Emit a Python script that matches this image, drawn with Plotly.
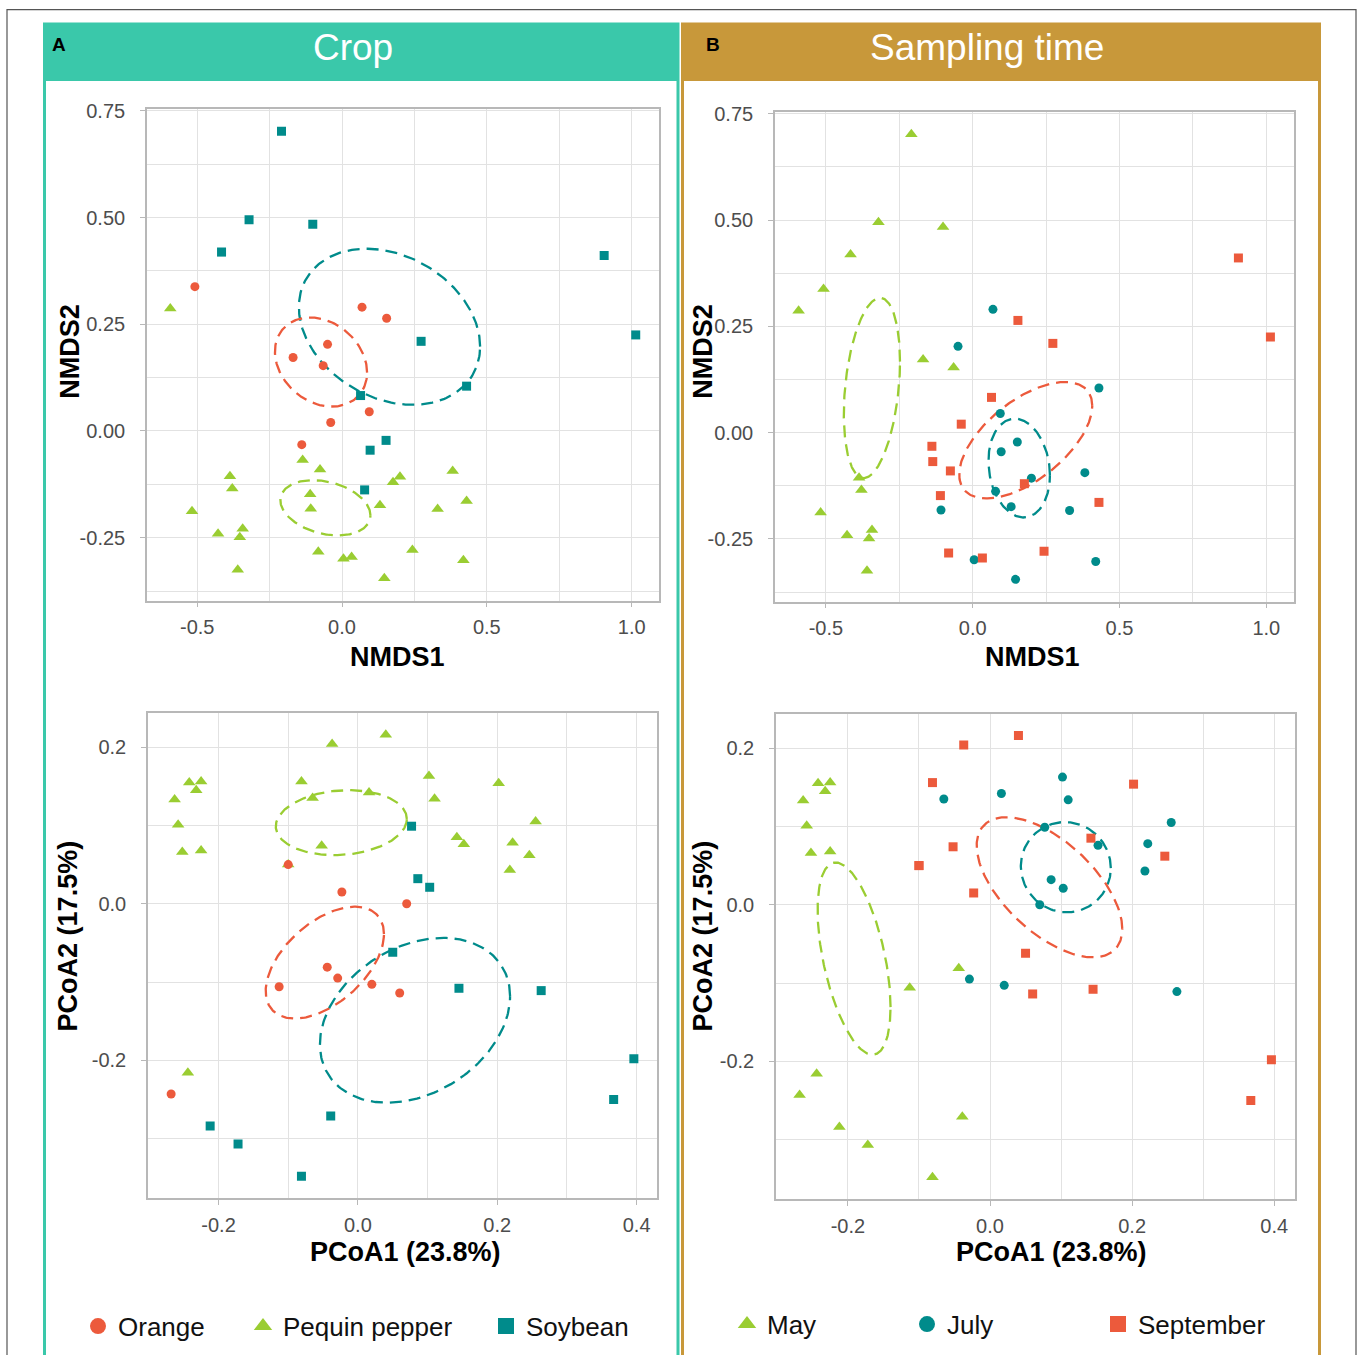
import numpy as np
import plotly.graph_objects as go

# ---------------- data ----------------
crop = (["Orange"] * 9) + (["Soybean"] * 12) + (["Pequin pepper"] * 24)
time = (["May", "May", "May", "July", "July", "July", "September", "September", "September"]
        + ["May", "May", "May", "May", "September", "September", "September", "July",
           "September", "July", "July", "July"]
        + ["May"] * 8 + ["July"] * 8 + ["September"] * 8)

nmds1 = [-0.508, -0.169, -0.065, 0.069, -0.050, 0.094, 0.154, -0.039, -0.139,
         -0.209, -0.321, -0.101, -0.416, 0.905, 1.014, 0.273, 0.430, 0.064, 0.152, 0.097, 0.078,
         -0.593, -0.387, -0.379, -0.518, -0.428, -0.343, -0.353, -0.360,
         0.200, 0.382, -0.108, 0.131, 0.330, 0.005, 0.419, 0.146,
         -0.136, -0.076, 0.176, -0.110, 0.430, -0.082, 0.033, 0.243]
nmds2 = [0.338, 0.172, 0.153, 0.290, 0.203, 0.045, 0.264, 0.020, -0.032,
         0.702, 0.495, 0.484, 0.419, 0.411, 0.225, 0.210, 0.105, 0.083, -0.022, -0.045, -0.138,
         0.287, -0.106, -0.135, -0.188, -0.241, -0.229, -0.249, -0.325,
         -0.107, -0.094, -0.182, -0.174, -0.183, -0.299, -0.303, -0.345,
         -0.068, -0.090, -0.120, -0.148, -0.164, -0.283, -0.295, -0.279]

pcoa1 = [-0.044, -0.113, -0.268, 0.070, -0.029, 0.020, -0.100, -0.023, 0.060,
         -0.212, -0.172, -0.039, -0.081, 0.050, 0.145, 0.396, 0.077, 0.367, 0.086, 0.103, 0.263,
         -0.242, -0.225, -0.232, -0.263, -0.258, -0.252, -0.225, -0.244,
         -0.065, 0.016, 0.102, 0.110, 0.255, 0.152, 0.222, 0.218,
         0.040, -0.037, -0.081, 0.202, 0.142, 0.246, -0.052, -0.100]
pcoa2 = [-0.081, -0.106, -0.243, 0.000, -0.095, -0.103, 0.050, 0.015, -0.114,
         -0.284, -0.307, -0.271, -0.348, -0.062, -0.108, -0.198, 0.099, -0.250, 0.032, 0.021, -0.111,
         0.155, 0.156, 0.145, 0.133, 0.101, 0.066, 0.068, -0.216,
         0.135, 0.142, 0.163, 0.134, 0.105, 0.076, 0.078, 0.043,
         0.216, 0.204, 0.156, 0.154, 0.085, 0.062, 0.074, 0.050]

crop_levels = ["Orange", "Pequin pepper", "Soybean"]
time_levels = ["May", "July", "September"]

nmds_x_ticks = [-0.5, 0.0, 0.5, 1.0]
nmds_x_labels = ["-0.5", "0.0", "0.5", "1.0"]
nmds_y_ticks = [-0.25, 0.0, 0.25, 0.5, 0.75]
nmds_y_labels = ["-0.25", "0.00", "0.25", "0.50", "0.75"]
pcoa_x_ticks = [-0.2, 0.0, 0.2, 0.4]
pcoa_x_labels = ["-0.2", "0.0", "0.2", "0.4"]
pcoa_y_ticks = [-0.2, 0.0, 0.2]
pcoa_y_labels = ["-0.2", "0.0", "0.2"]

# ---------------- styles ----------------
FONT = "Liberation Sans, Arial, sans-serif"
C_ORANGE = "#EC5A3C"
C_GREEN = "#9ACD32"
C_TEAL = "#008B8B"
TEAL_HDR = "#3AC8AA"
GOLD_HDR = "#C8983A"

crop_style = {"Orange": (C_ORANGE, "circle", 9),
              "Pequin pepper": (C_GREEN, "triangle-up", 11),
              "Soybean": (C_TEAL, "square", 9)}
time_style = {"May": (C_GREEN, "triangle-up", 11),
              "July": (C_TEAL, "circle", 9),
              "September": (C_ORANGE, "square", 9)}

W, H = 1358, 1355
# vertical calibration of the page capture (measured offset/scale)
Y_OFF, Y_SCALE = 9.0, 0.994


def Y(py):
    return (py - Y_OFF) / Y_SCALE


def px_x(a, b):
    return [a / W, b / W]


def px_y(top, bottom):
    return [1 - Y(bottom) / H, 1 - Y(top) / H]


def se_ellipse(x, y, level=0.95, n=240):
    X = np.column_stack([x, y])
    m = X.mean(axis=0)
    cov = np.cov(X.T) / len(x)
    scale = np.sqrt(-2 * np.log(1 - level))
    L = np.linalg.cholesky(cov)
    t = np.linspace(0, 2 * np.pi, n)
    pts = m[:, None] + scale * (L @ np.vstack([np.cos(t), np.sin(t)]))
    return pts[0], pts[1]


def expand(v, f=0.05):
    lo, hi = min(v), max(v)
    r = hi - lo
    return [lo - f * r, hi + f * r]


def minor_vals(ticks, rng):
    step = ticks[1] - ticks[0]
    vals = np.arange(ticks[0] - step * 10 - step / 2, ticks[-1] + step * 10, step)
    return [float(v) for v in vals if rng[0] <= v <= rng[1]]


fig = go.Figure()

panels = [
    ("x", "y", nmds1, nmds2, crop, ["Pequin pepper", "Soybean", "Orange"], crop_style),
    ("x2", "y2", nmds1, nmds2, time, time_levels, time_style),
    ("x3", "y3", pcoa1, pcoa2, crop, ["Pequin pepper", "Soybean", "Orange"], crop_style),
    ("x4", "y4", pcoa1, pcoa2, time, time_levels, time_style),
]

for xa, ya, xs, ys, grp, levels, styles in panels:
    xs = np.array(xs)
    ys = np.array(ys)
    g = np.array(grp)
    for lev in levels:
        sel = g == lev
        ex, ey = se_ellipse(xs[sel], ys[sel])
        fig.add_trace(go.Scatter(x=ex, y=ey, mode="lines", xaxis=xa, yaxis=ya,
                                 line=dict(color=styles[lev][0], width=2.3, dash="12px,7px"),
                                 showlegend=False, hoverinfo="skip"))
    for lev in levels:
        sel = g == lev
        col, sym, sz = styles[lev]
        fig.add_trace(go.Scatter(x=xs[sel], y=ys[sel], mode="markers", xaxis=xa, yaxis=ya,
                                 marker=dict(color=col, symbol=sym, size=sz, line=dict(width=0)),
                                 name=lev, showlegend=False))

legend_items = [
    ("Orange", crop_style["Orange"], 98, 1327),
    ("Pequin pepper", crop_style["Pequin pepper"], 263, 1327),
    ("Soybean", crop_style["Soybean"], 506, 1327),
    ("May", time_style["May"], 747, 1325),
    ("July", time_style["July"], 927, 1325),
    ("September", time_style["September"], 1118, 1325),
]
legend_layouts = {}
for i, (name, (col, sym, sz), cx, cy) in enumerate(legend_items):
    lid = "legend" if i == 0 else f"legend{i + 1}"
    fig.add_trace(go.Scatter(x=[None], y=[None], mode="markers", name=name,
                             marker=dict(color=col, symbol=sym, size=16),
                             legend=lid, showlegend=True, xaxis="x", yaxis="y"))
    legend_layouts[lid] = dict(x=(cx - 20) / W, y=1 - Y(cy) / H, xanchor="left", yanchor="middle",
                               bgcolor="rgba(0,0,0,0)", borderwidth=0,
                               font=dict(family=FONT, size=26, color="#111111"),
                               itemclick=False, itemdoubleclick=False)

nx_range = expand(nmds1)
ny_range = expand(nmds2)
px_range = expand(pcoa1)
py_range = expand(pcoa2)


def axis(dom, rng, ticks, labels, anchor, is_x):
    return dict(domain=dom, range=rng, anchor=anchor,
                tickmode="array", tickvals=ticks, ticktext=labels,
                showline=True, mirror=True, linecolor="#B8B8B8", linewidth=1.6,
                showgrid=True, gridcolor="#E2E2E2", gridwidth=1.4, zeroline=False,
                ticks="outside", ticklen=5, tickcolor="#B8B8B8", tickwidth=1.4,
                tickfont=dict(family=FONT, size=20, color="#4D4D4D"),
                minor=dict(tickmode="array", tickvals=minor_vals(ticks, rng), showgrid=True,
                           gridcolor="#E2E2E2", gridwidth=1.4, ticks=""),
                ticklabelstandoff=3 if is_x else 11)


layout = dict(
    width=W, height=H, margin=dict(l=0, r=0, t=0, b=0),
    paper_bgcolor="white", plot_bgcolor="white",
    xaxis=axis(px_x(147, 659), nx_range, nmds_x_ticks, nmds_x_labels, "y", True),
    yaxis=axis(px_y(109, 601), ny_range, nmds_y_ticks, nmds_y_labels, "x", False),
    xaxis2=axis(px_x(775, 1294), nx_range, nmds_x_ticks, nmds_x_labels, "y2", True),
    yaxis2=axis(px_y(112, 602), ny_range, nmds_y_ticks, nmds_y_labels, "x2", False),
    xaxis3=axis(px_x(148, 657), px_range, pcoa_x_ticks, pcoa_x_labels, "y3", True),
    yaxis3=axis(px_y(713, 1199), py_range, pcoa_y_ticks, pcoa_y_labels, "x3", False),
    xaxis4=axis(px_x(776, 1295), px_range, pcoa_x_ticks, pcoa_x_labels, "y4", True),
    yaxis4=axis(px_y(714, 1200), py_range, pcoa_y_ticks, pcoa_y_labels, "x4", False),
)
layout.update(legend_layouts)
fig.update_layout(**layout)


def rect(x0, y0, x1, y1, **kw):
    fig.add_shape(type="rect", xref="paper", yref="paper",
                  x0=x0 / W, x1=x1 / W, y0=1 - Y(y1) / H, y1=min(1 - Y(y0) / H, 0.9996),
                  layer="below", **kw)


rect(7, 7, 1356, 1380, line=dict(color="#555555", width=1.2), fillcolor="rgba(0,0,0,0)")
rect(43, 23, 679, 81, line=dict(width=0), fillcolor=TEAL_HDR)
rect(681, 23, 1321, 81, line=dict(width=0), fillcolor=GOLD_HDR)
rect(44.5, 24, 678, 1380, line=dict(color=TEAL_HDR, width=3), fillcolor="rgba(0,0,0,0)")
rect(682.5, 24, 1319.5, 1380, line=dict(color=GOLD_HDR, width=3), fillcolor="rgba(0,0,0,0)")


def ann(text, x, y, size, color="black", bold=False, angle=0):
    if bold:
        text = f"<b>{text}</b>"
    fig.add_annotation(text=text, x=x / W, y=1 - Y(y) / H, xref="paper", yref="paper",
                       showarrow=False, xanchor="center", yanchor="middle", textangle=angle,
                       font=dict(family=FONT, size=size, color=color))


ann("Crop", 353, 48, 37, color="white")
ann("Sampling time", 987, 48, 37, color="white")
ann("A", 59, 45, 19, bold=True)
ann("B", 713, 45, 19, bold=True)

ann("NMDS1", 397, 657, 27, bold=True)
ann("NMDS1", 1032, 657, 27, bold=True)
ann("NMDS2", 70, 352, 27, bold=True, angle=-90)
ann("NMDS2", 703, 352, 27, bold=True, angle=-90)
ann("PCoA1 (23.8%)", 405, 1253, 27, bold=True)
ann("PCoA1 (23.8%)", 1051, 1253, 27, bold=True)
ann("PCoA2 (17.5%)", 68, 937, 27, bold=True, angle=-90)
ann("PCoA2 (17.5%)", 703, 937, 27, bold=True, angle=-90)

post = ("document.documentElement.style.margin='0';document.body.style.margin='0';"
        "document.body.style.overflow='hidden';"
        "var gd=document.querySelector('.plotly-graph-div');"
        "gd.style.position='absolute';gd.style.top='0px';gd.style.left='0px';")
fig.write_html("out.html", config={"displayModeBar": False}, post_script=post)
